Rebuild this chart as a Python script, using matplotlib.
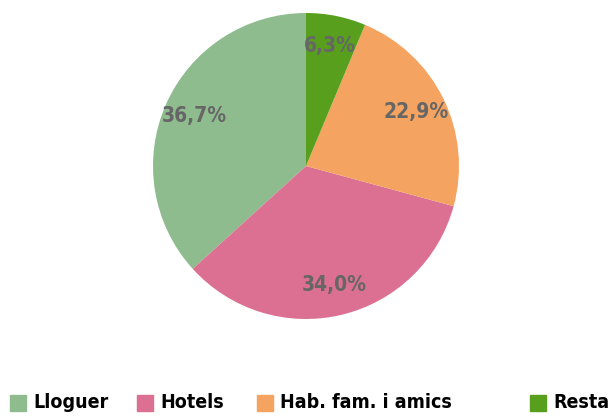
import matplotlib.pyplot as plt
from matplotlib.patches import Rectangle

# shares of overnight stays by type of accommodation
labels = ["Lloguer", "Hotels", "Hab. fam. i amics", "Resta"]
values = [36.7, 34.0, 22.9, 6.3]
colors = ["#8fbc8f", "#db7093", "#f4a460", "#579f1d"]

plt.rcParams["font.family"] = ["DejaVu Sans"]
plt.rcParams["font.stretch"] = "condensed"

fig = plt.figure(figsize=(6.1, 4.16), dpi=100)
ax = fig.add_axes([153 / 610, 97 / 416, 306 / 610, 306 / 416])

wedges, texts = ax.pie(values, colors=colors, startangle=90, counterclock=True,
                       radius=1, labels=[("%.1f%%" % v).replace(".", ",") for v in values],
                       labeldistance=0.8)
for t in texts:
    t.set_ha("center")
    t.set_va("center")
    t.set_color("#666666")
    t.set_fontsize(15)
    t.set_fontweight("bold")
    t.set_fontstretch("condensed")
ax.set_xlim(-1, 1)
ax.set_ylim(-1, 1)
ax.set_aspect("equal")
ax.axis("off")

# legend row along the bottom
legend_x = [10, 137, 257, 530]
for x, lab, col in zip(legend_x, labels, colors):
    fig.patches.append(Rectangle((x / 610, (416 - 411) / 416), 16 / 610, 16 / 416,
                                 transform=fig.transFigure, color=col))
    fig.text((x + 23) / 610, (416 - 402) / 416, lab, fontsize=14, fontweight="bold",
             fontstretch="condensed", va="center", ha="left", color="black")

plt.savefig("out.png")
